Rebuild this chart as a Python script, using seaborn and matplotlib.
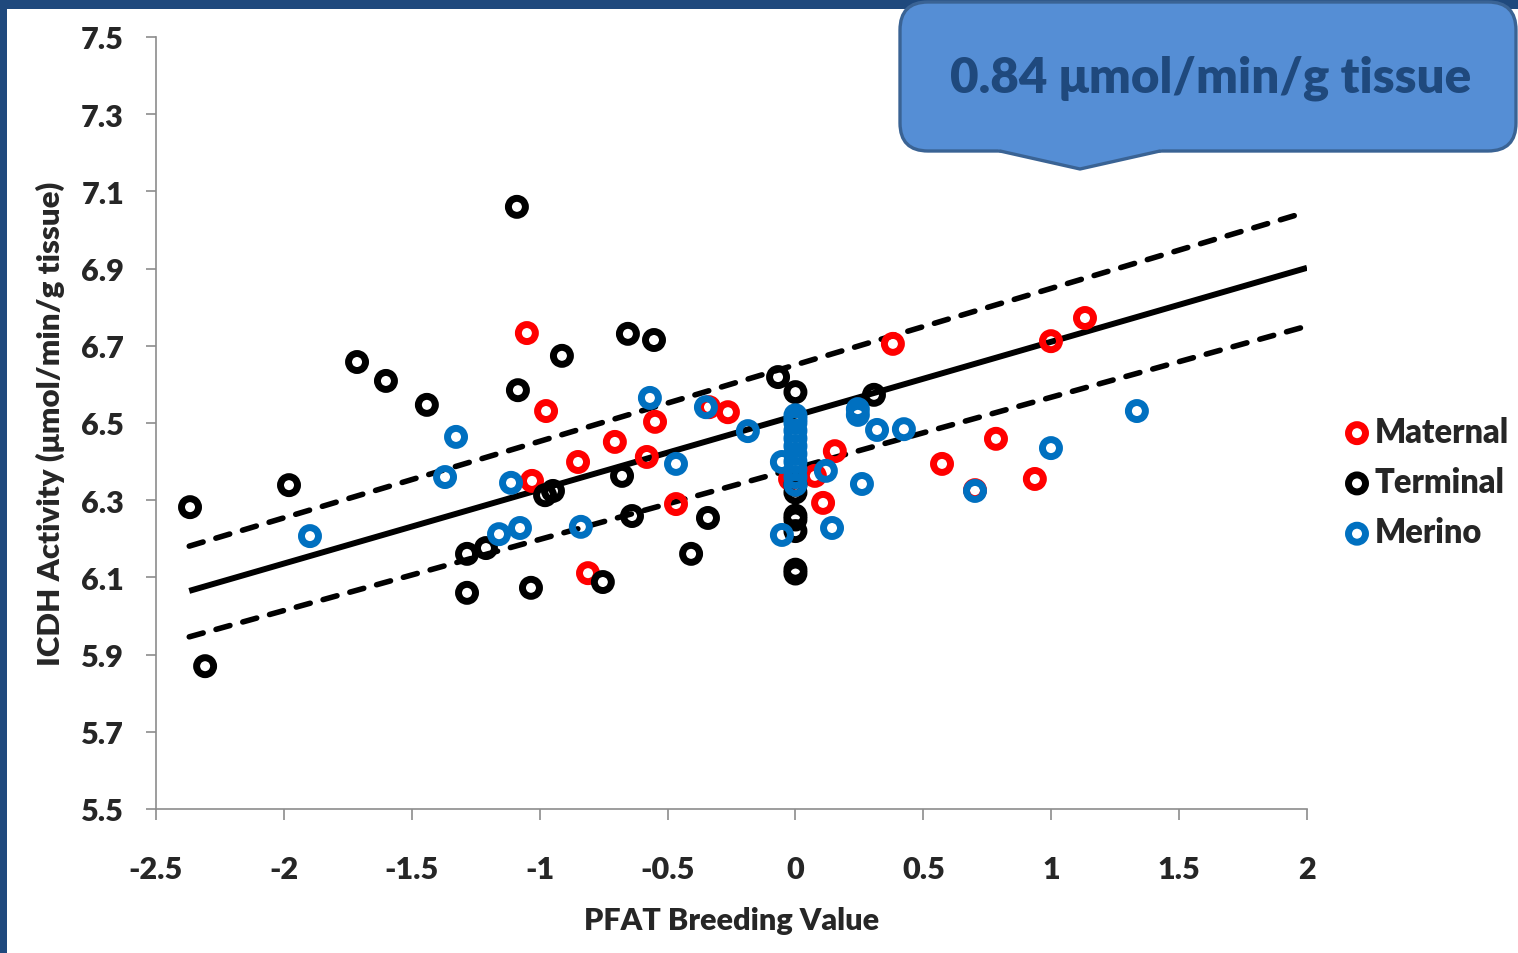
import matplotlib
matplotlib.use("Agg")
import matplotlib.pyplot as plt
import matplotlib.transforms as mtransforms
from matplotlib.patches import FancyBboxPatch, Polygon, Rectangle
import seaborn as sns
import pandas as pd

# PFAT breeding value (x) vs ICDH activity (y)
maternal_x = [-1.050, -0.975, -1.030, -0.850, -0.811, -0.706, -0.581, -0.549, -0.467, -0.338,
              -0.264, -0.021, 0.076, 0.154, 0.108, 0.381, 0.573, 0.702, 0.784, 0.936, 0.999, 1.132]
maternal_y = [6.733, 6.531, 6.350, 6.399, 6.111, 6.451, 6.412, 6.503, 6.290, 6.541,
              6.528, 6.355, 6.363, 6.427, 6.293, 6.705, 6.394, 6.326, 6.459, 6.355, 6.712, 6.772]

terminal_x = [-2.367, -2.308, -1.980, -1.714, -1.601, -1.441, -1.284, -1.284, -1.210, -1.089,
              -1.085, -1.034, -0.979, -0.948, -0.913, -0.753, -0.678, -0.655, -0.639, -0.553,
              -0.408, -0.342, -0.068, 0.0, 0.0, 0.0, 0.0, 0.0, 0.0, 0.0, 0.0, 0.307]
terminal_y = [6.282, 5.870, 6.339, 6.658, 6.609, 6.547, 6.161, 6.060, 6.176, 7.060,
              6.585, 6.073, 6.313, 6.324, 6.674, 6.088, 6.363, 6.731, 6.259, 6.715,
              6.161, 6.254, 6.619, 6.580, 6.34, 6.32, 6.26, 6.25, 6.22, 6.12, 6.11, 6.573]

merino_x = [-1.898, -1.370, -1.327, -1.112, -1.159, -1.077, -0.839, -0.569, -0.467, -0.350,
            -0.186, -0.053, -0.053, 0.0, 0.0, 0.0, 0.0, 0.0, 0.0, 0.0, 0.0, 0.0, 0.0, 0.0,
            0.119, 0.143, 0.244, 0.244, 0.260, 0.319, 0.424, 0.702, 0.999, 1.335]
merino_y = [6.207, 6.360, 6.464, 6.345, 6.212, 6.228, 6.231, 6.565, 6.394, 6.541,
            6.479, 6.399, 6.210, 6.52, 6.51, 6.50, 6.48, 6.46, 6.44, 6.42, 6.40, 6.38, 6.36, 6.34,
            6.376, 6.228, 6.536, 6.521, 6.342, 6.482, 6.484, 6.324, 6.435, 6.531]

# regression line and its dashed bounds
fit_x = [-2.37, 2.0]
fit_y = [6.065, 6.902]
upper_y = [6.181, 7.047]
lower_y = [5.946, 6.751]

x_ticks = [-2.5, -2, -1.5, -1, -0.5, 0, 0.5, 1, 1.5, 2]
x_tick_labels = ["-2.5", "-2", "-1.5", "-1", "-0.5", "0", "0.5", "1", "1.5", "2"]
y_ticks = [5.5, 5.7, 5.9, 6.1, 6.3, 6.5, 6.7, 6.9, 7.1, 7.3, 7.5]
y_tick_labels = ["5.5", "5.7", "5.9", "6.1", "6.3", "6.5", "6.7", "6.9", "7.1", "7.3", "7.5"]

breeds = ["Maternal", "Terminal", "Merino"]
colors = {"Maternal": "#FF0000", "Terminal": "#000000", "Merino": "#0070C0"}

df = pd.concat([
    pd.DataFrame({"x": maternal_x, "y": maternal_y, "breed": "Maternal"}),
    pd.DataFrame({"x": terminal_x, "y": terminal_y, "breed": "Terminal"}),
    pd.DataFrame({"x": merino_x, "y": merino_y, "breed": "Merino"}),
])

sns.set_theme(style="ticks")
plt.rcParams["font.family"] = ["Lato", "Noto Sans", "DejaVu Sans"]
WEIGHT = "heavy"

W, H = 1518, 954
fig = plt.figure(figsize=(W / 100, H / 100), dpi=100)
fig.patch.set_facecolor("white")
ax = fig.add_axes([156 / W, 1 - 810 / H, (1307 - 156) / W, (810 - 38) / H])

# transform from slide pixels (origin top-left) to figure
px = mtransforms.Affine2D().scale(1 / W, -1 / H).translate(0, 1) + fig.transFigure

ax.plot(fit_x, fit_y, color="black", lw=4.3, solid_capstyle="butt", zorder=2)
for yy in (upper_y, lower_y):
    ax.plot(fit_x, yy, color="black", lw=4.0, dashes=(2.6, 2.4),
            dash_capstyle="round", zorder=2)

for b in breeds:
    sub = df[df["breed"] == b]
    sns.scatterplot(x=sub["x"], y=sub["y"], ax=ax, s=150, marker="o",
                    color=colors[b], facecolor="none", edgecolor=colors[b],
                    linewidth=5.0, label=b, zorder=3)

ax.set_xlim(-2.5, 2)
ax.set_ylim(5.5, 7.5)
ax.set_xticks(x_ticks)
ax.set_xticklabels(x_tick_labels)
ax.set_yticks(y_ticks)
ax.set_yticklabels(y_tick_labels)
sns.despine(ax=ax)
for sp in ("left", "bottom"):
    ax.spines[sp].set_color("#8C8C8C")
    ax.spines[sp].set_linewidth(1.2)
ax.tick_params(axis="y", length=7, width=1.2, color="#8C8C8C", pad=16, labelsize=22)
ax.tick_params(axis="x", length=8, width=1.2, color="#8C8C8C", pad=25, labelsize=22)
for t in ax.get_xticklabels() + ax.get_yticklabels():
    t.set_fontweight(WEIGHT)

ax.set_xlabel("PFAT Breeding Value", fontsize=22, fontweight=WEIGHT, labelpad=17)
ax.set_ylabel("ICDH Activity (\u03bcmol/min/g tissue)", fontsize=22.5,
              fontweight=WEIGHT, labelpad=12)

ax.legend(loc="center left", bbox_to_anchor=(1326 / W, 1 - 483 / H),
          bbox_transform=fig.transFigure, frameon=False, borderpad=0,
          handlelength=0.9, handletextpad=0.1, labelspacing=0.56,
          prop={"size": 23.5, "weight": WEIGHT})

# slide frame
fig.add_artist(Rectangle((0, 0), W, 10, transform=px, color="#1F497D", lw=0, zorder=5))
fig.add_artist(Rectangle((0, 0), 7, H, transform=px, color="#1F497D", lw=0, zorder=5))

# callout
box = FancyBboxPatch((900, 3), 616, 149, boxstyle="round,pad=0,rounding_size=28",
                     transform=px, facecolor="#558ED5", edgecolor="#3A6394",
                     lw=2.4, zorder=6)
fig.add_artist(box)
fig.add_artist(Polygon([(995, 146), (1000, 152), (1080, 170), (1160, 152), (1165, 146)],
                       closed=True, transform=px, facecolor="#558ED5",
                       edgecolor="none", zorder=7))
fig.add_artist(plt.Line2D([1000, 1080, 1160], [152, 170, 152], transform=px,
                          color="#3A6394", lw=2.4, zorder=8))
fig.text(1211 / W, 1 - 78 / H, "0.84 \u03bcmol/min/g tissue", ha="center", va="center",
         fontsize=35.5, fontweight=WEIGHT, color="#1F497D", zorder=9)

fig.savefig("out.png", dpi=100)
